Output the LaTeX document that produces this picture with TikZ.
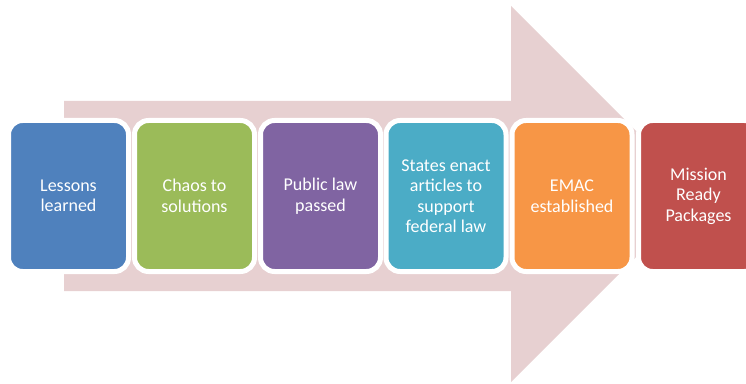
\documentclass[tikz,border=0pt]{standalone}
\usepackage{fontspec}
\setmainfont{Carlito}
\definecolor{arrowpink}{HTML}{E7D0D1}
\definecolor{cblue}{HTML}{4F81BD}
\definecolor{cgreen}{HTML}{9BBB59}
\definecolor{cpurple}{HTML}{8064A2}
\definecolor{cteal}{HTML}{4BACC6}
\definecolor{corange}{HTML}{F79646}
\definecolor{cred}{HTML}{C0504D}
\tikzset{
  stagebox/.style={draw=white, line width=5pt, rounded corners=14pt,
    minimum width=120pt, minimum height=151pt, inner sep=0pt,
    text=white, align=center, font=\fontsize{18}{20.5}\selectfont}
}
\begin{document}
\begin{tikzpicture}[x=1pt,y=1pt]
\useasboundingbox (0,0) rectangle (746,383);
\clip (0,0) rectangle (746,383);
\fill[arrowpink] (64,92) -- (64,282) -- (511,282) -- (511,377) -- (699,189)
  -- (511,1) -- (511,92) -- cycle;
\node[stagebox, fill=cblue]   (s1) at (68.5,187) {Lessons\\learned};
\node[stagebox, fill=cgreen]  (s2) at (194.5,187) {Chaos to\\solutions};
\node[stagebox, fill=cpurple] (s3) at (320.5,187) {Public law\\passed};
\node[stagebox, fill=cteal]   (s4) at (446,187) {States enact\\articles to\\support\\federal law};
\node[stagebox, fill=corange] (s5) at (572,187) {EMAC\\established};
\node[stagebox, fill=cred]    (s6) at (698.5,187) {Mission\\Ready\\Packages};
\end{tikzpicture}
\end{document}
